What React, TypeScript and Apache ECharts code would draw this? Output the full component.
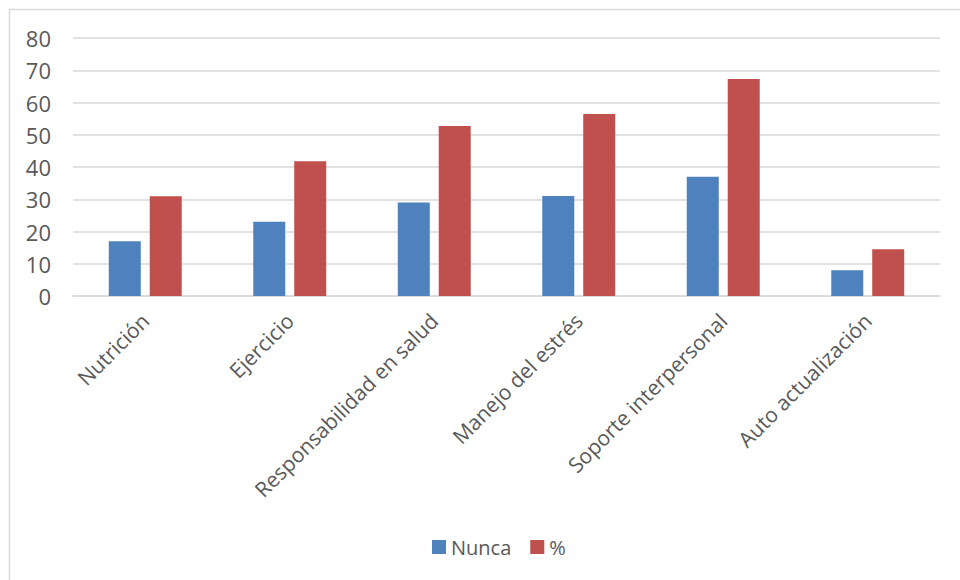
import React, { useEffect, useRef } from "react";
import * as echarts from "echarts";

const categories = [
  "Nutrición",
  "Ejercicio",
  "Responsabilidad en salud",
  "Manejo del estrés",
  "Soporte interpersonal",
  "Auto actualización",
];
const nunca = [17, 23, 29, 31, 37, 8];
const porcentaje = [30.9, 41.8, 52.7, 56.4, 67.3, 14.5];
const seriesNames = ["Nunca", "%"];

const FONT = "'Open Sans', 'Noto Sans', sans-serif";
const TEXT = "#595959";

export default function App() {
  const ref = useRef<HTMLDivElement>(null);
  useEffect(() => {
    document.body.style.margin = "0";
    const chart = echarts.init(ref.current!, null, { renderer: "svg" });
    chart.setOption({
      animation: false,
      backgroundColor: "#ffffff",
      textStyle: { fontFamily: FONT },
      graphic: [
        {
          type: "rect",
          shape: { x: 9.5, y: 9.5, width: 1000, height: 1000 },
          style: { fill: "none", stroke: "#d9d9d9", lineWidth: 1.5 },
          silent: true,
          z: -1,
        },
      ],
      grid: { left: 73, right: 20, top: 38, bottom: 284, containLabel: false },
      legend: {
        data: seriesNames,
        left: 427,
        top: 532,
        itemWidth: 14,
        itemHeight: 14,
        itemGap: 19,
        icon: "rect",
        textStyle: { color: TEXT, fontSize: 20, fontFamily: FONT },
      },
      xAxis: {
        type: "category",
        data: categories,
        axisLine: { show: true, lineStyle: { color: "#d9d9d9", width: 1.5 } },
        axisTick: { show: false },
        axisLabel: {
          rotate: 45,
          interval: 0,
          margin: 21,
          color: TEXT,
          fontSize: 21,
          fontFamily: FONT,
        },
      },
      yAxis: {
        type: "value",
        min: 0,
        max: 80,
        interval: 10,
        axisLine: { show: false },
        axisTick: { show: false },
        splitLine: { lineStyle: { color: "#d9d9d9", width: 1.5 } },
        axisLabel: { color: TEXT, fontSize: 22, fontFamily: FONT, margin: 22 },
      },
      series: [
        {
          name: seriesNames[0],
          type: "bar",
          data: nunca,
          barWidth: 32,
          barGap: "28%",
          itemStyle: { color: "#4f81bd" },
        },
        {
          name: seriesNames[1],
          type: "bar",
          data: porcentaje,
          barWidth: 32,
          barGap: "28%",
          itemStyle: { color: "#c0504d" },
        },
      ],
    });
    return () => chart.dispose();
  }, []);
  return <div ref={ref} style={{ width: 960, height: 580 }} />;
}
